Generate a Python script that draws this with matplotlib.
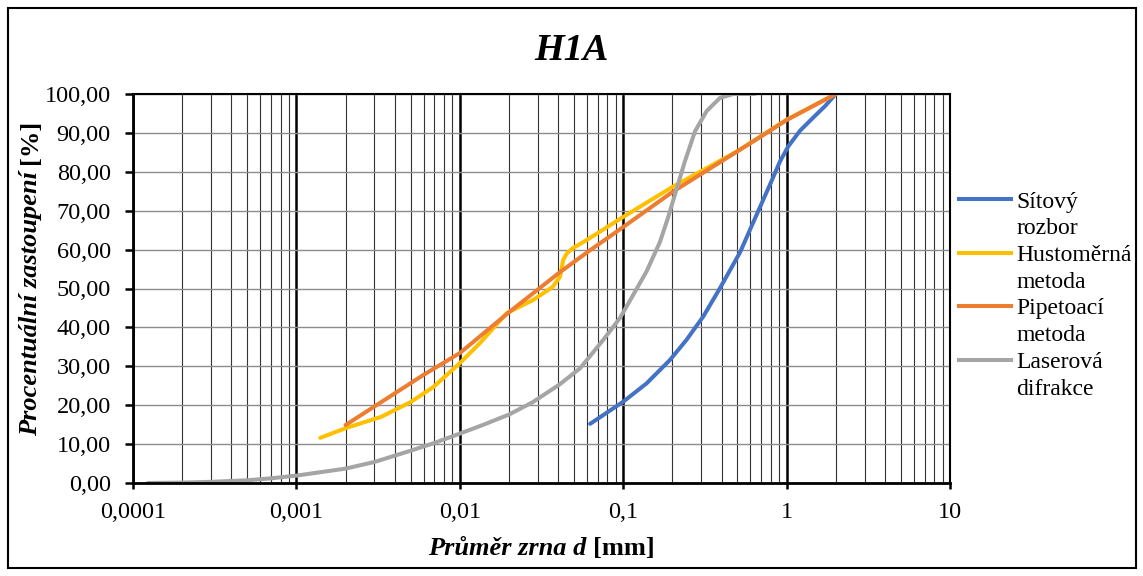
import matplotlib
matplotlib.use('Agg')
import matplotlib.pyplot as plt
from matplotlib.lines import Line2D
from matplotlib.patches import Rectangle
from matplotlib.ticker import FixedLocator, LogLocator, NullFormatter, FuncFormatter

plt.rcParams['font.family'] = ['Liberation Serif', 'DejaVu Serif']

# Sitovy rozbor
d_sito = [0.0627, 0.1, 0.139, 0.193, 0.244, 0.309, 0.39, 0.519, 0.656, 0.791, 0.912,
          1.026, 1.21, 1.46, 1.72, 2.0]
p_sito = [15.2, 20.9, 25.6, 31.6, 36.8, 42.8, 50.0, 59.3, 69.0, 76.7, 82.7,
          86.6, 90.6, 94.0, 96.9, 100.0]

# Hustomerna metoda
d_hust = [0.0014, 0.002, 0.0033, 0.005, 0.0069, 0.01, 0.0133, 0.0194, 0.028, 0.037,
          0.041, 0.0429, 0.0453, 0.0493, 0.06, 0.1, 0.2, 0.5, 1.0, 2.0]
p_hust = [11.6, 14.1, 17.0, 20.8, 24.7, 30.8, 36.0, 43.7, 47.0, 50.4,
          53.0, 57.3, 59.1, 60.4, 62.5, 68.4, 76.1, 85.3, 93.4, 100.0]

# Pipetovaci metoda
d_pipe = [0.002, 0.006, 0.01, 0.02, 0.041, 0.063, 0.1, 0.2, 0.63, 1.0, 2.0]
p_pipe = [14.9, 27.8, 33.4, 43.9, 54.2, 59.9, 65.8, 74.8, 87.9, 93.3, 100.0]

# Laserova difrakce
d_laser = [0.000123, 0.0002, 0.0003, 0.0005, 0.0007, 0.001, 0.002, 0.003, 0.005, 0.007,
           0.01, 0.014, 0.02, 0.028, 0.041, 0.0545, 0.0755, 0.0955, 0.1153, 0.139,
           0.168, 0.189, 0.212, 0.239, 0.275, 0.324, 0.391, 0.472, 0.641]
p_laser = [0.0, 0.1, 0.3, 0.7, 1.2, 1.9, 3.7, 5.4, 8.3, 10.3,
           12.7, 15.0, 17.6, 20.8, 25.4, 29.5, 36.8, 42.4, 48.4, 54.4,
           62.0, 68.5, 75.5, 82.8, 90.4, 95.6, 99.0, 100.0, 100.0]

x_ticks = [0.0001, 0.001, 0.01, 0.1, 1, 10]
x_labels = ['0,0001', '0,001', '0,01', '0,1', '1', '10']
y_ticks = [0, 10, 20, 30, 40, 50, 60, 70, 80, 90, 100]

fig = plt.figure(figsize=(11.43, 5.76), dpi=100)
ax = fig.add_axes([133/1143, 1-483/576, (950-133)/1143, (483-94)/576])

ax.plot(d_sito, p_sito, color='#4472C4', lw=2.9, solid_capstyle='round', solid_joinstyle='round')
ax.plot(d_hust, p_hust, color='#FFC000', lw=2.9, solid_capstyle='round', solid_joinstyle='round')
ax.plot(d_pipe, p_pipe, color='#ED7D31', lw=2.9, solid_capstyle='round', solid_joinstyle='round')
ax.plot(d_laser, p_laser, color='#A5A5A5', lw=2.9, solid_capstyle='round', solid_joinstyle='round')

ax.set_xscale('log')
ax.set_xlim(0.0001, 10)
ax.set_ylim(0, 100)
ax.xaxis.set_major_locator(FixedLocator(x_ticks))
ax.set_xticklabels(x_labels)
ax.xaxis.set_minor_locator(LogLocator(base=10, subs=range(2, 10)))
ax.xaxis.set_minor_formatter(NullFormatter())
ax.set_yticks(y_ticks)
ax.yaxis.set_major_formatter(FuncFormatter(lambda v, p: ('%.2f' % v).replace('.', ',')))

ax.grid(True, which='major', axis='x', color='black', lw=1.8)
ax.grid(True, which='minor', axis='x', color='#333333', lw=0.8)
ax.grid(True, which='major', axis='y', color='#8c8c8c', lw=1.0)
ax.set_axisbelow(True)
ax.tick_params(axis='y', which='major', direction='out', length=6, width=1.8, labelsize=17.5, pad=10)
ax.tick_params(axis='x', which='major', direction='out', length=4.5, width=1.8, labelsize=17.5, pad=9)
ax.tick_params(which='minor', length=0)
for s in ['left', 'bottom']:
    ax.spines[s].set_linewidth(2)
for s in ['top', 'right']:
    ax.spines[s].set_linewidth(1.5)

# titulek a popisky os
fig.text(0.5, 1-50/576, 'H1A', ha='center', va='center', fontsize=27.5,
         fontweight='bold', fontstyle='italic')
tx = fig.text(428/1143, 1-555/576, 'Průměr zrna d', ha='left', va='baseline',
              fontsize=19, fontweight='bold', fontstyle='italic')
ax.annotate('[mm]', xy=(1, 0), xycoords=tx, xytext=(5, 0), textcoords='offset points',
            ha='left', va='bottom', fontsize=19, fontweight='bold')
ty = fig.text(31/1143, 1-436/576, 'Procentuální zastoupení', ha='center', va='bottom',
              rotation=90, fontsize=19, fontweight='bold', fontstyle='italic')
ax.annotate('[%]', xy=(0.5, 1), xycoords=ty, xytext=(0, 5), textcoords='offset points',
            ha='center', va='bottom', rotation=90, fontsize=19, fontweight='bold')

# legenda - zalomene popisky
blank = Line2D([], [], color='none')
handles = [Line2D([], [], color='#4472C4', lw=2.9), blank,
           Line2D([], [], color='#FFC000', lw=2.9), blank,
           Line2D([], [], color='#ED7D31', lw=2.9), blank,
           Line2D([], [], color='#A5A5A5', lw=2.9), blank]
labels = ['Sítový', 'rozbor', 'Hustoměrná', 'metoda', 'Pipetoací', 'metoda', 'Laserová', 'difrakce']
fig.legend(handles, labels, loc='upper left', bbox_to_anchor=(959/1143, 1-191/576),
           frameon=False, fontsize=17, handlelength=2.2, handletextpad=0.22,
           labelspacing=0.22, borderpad=0, borderaxespad=0)

fig.add_artist(Rectangle((8/1143, 8/576), 1128/1143, 560/576, transform=fig.transFigure,
                         fill=False, edgecolor='black', lw=1.5))

plt.savefig('out.png', dpi=100)
